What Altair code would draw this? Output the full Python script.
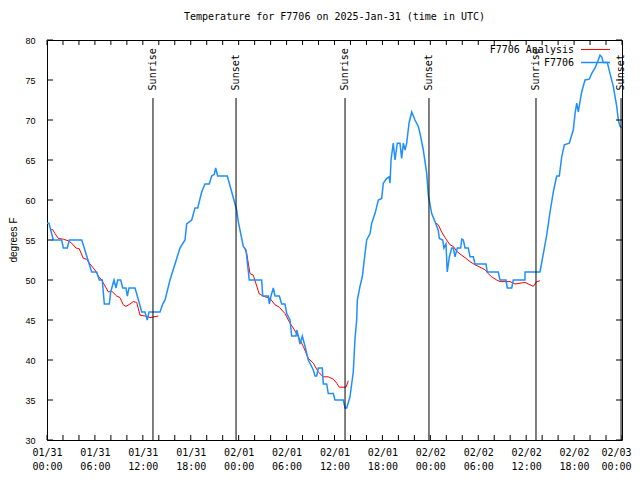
import altair as alt
import pandas as pd

# ---------------- data (hours since 2025-01-31 00:00 UTC) ----------------
obs_hours = [0.0, 0.25, 0.79, 1.84, 2.04, 2.54, 2.79, 4.35, 4.97, 5.6, 6.22, 6.55, 6.92, 7.18, 7.8,
             7.98, 8.39, 8.64, 8.85, 9.23, 9.48, 9.89, 10.06, 10.27, 11.02, 11.31, 11.86, 12.27,
             12.56, 12.77, 14.15, 14.49, 14.78, 15.4, 16.03, 16.65, 17.28, 17.49, 18.12, 18.53,
             18.87, 19.37, 19.78, 20.32, 20.62, 20.95, 21.12, 21.37, 22.58, 23.13, 23.75, 23.95,
             24.58, 24.92, 25.33, 26.88, 27.01, 27.71, 27.84, 28.05, 28.34, 28.55, 29.09, 29.39,
             29.8, 30.02, 30.43, 30.64, 31.18, 31.27, 31.47, 31.68, 31.97, 32.31, 32.72, 33.35,
             33.56, 33.77, 33.97, 34.47, 34.6, 35.02, 35.22, 35.85, 36.06, 37.1, 37.32, 37.53,
             37.94, 38.35, 38.57, 38.78, 38.86, 39.19, 39.48, 39.82, 40.03, 40.45, 40.66, 41.07,
             41.49, 41.91, 42.11, 42.54, 42.86, 42.95, 43.08, 43.36, 43.58, 43.86, 44.2, 44.41,
             44.62, 44.83, 45.04, 45.33, 45.67, 46.08, 46.49, 46.71, 47.12, 47.55, 47.75, 48.17,
             48.58, 49.0, 49.12, 49.55, 49.71, 49.96, 50.12, 50.38, 50.68, 50.88, 51.09, 51.38,
             51.8, 51.93, 52.13, 52.34, 52.75, 52.97, 53.38, 53.59, 54.97, 55.13, 56.51, 56.72,
             57.47, 57.64, 58.19, 58.39, 59.85, 59.86, 61.73, 62.15, 62.57, 62.99, 63.4, 63.82,
             64.15, 64.45, 64.78, 65.4, 65.7, 65.9, 66.12, 66.33, 66.53, 66.74, 66.95, 67.37,
             67.9, 68.2, 68.62, 69.03, 69.25, 69.46, 69.66, 70.16, 70.5, 70.91, 71.34, 71.54,
             71.75, 72.0]
obs_temps = [57.1, 57.1, 55, 55, 54, 54, 55, 55, 53, 51, 51, 50, 50, 47, 47,
             48.5, 50, 49, 50, 50, 49, 49, 48, 49, 49, 48, 46, 46,
             45, 46, 46, 47, 47.5, 50, 52, 54, 55, 57, 57.5, 59,
             59, 61, 62, 62, 63, 63.2, 64, 63, 63, 61, 58.75, 57.3,
             54.2, 53.75, 50, 50, 48, 48, 47, 48, 49, 48, 48, 47,
             47, 45.8, 45, 43, 43, 43.75, 43, 42, 43, 41.7, 40, 38.75,
             38, 38, 39, 39, 37, 37, 35.8, 35.8, 35, 35, 34, 34,
             35.4, 38.5, 42.7, 45, 47.5, 49.2, 50.4, 53.3, 55, 55.8, 57.1, 58.3,
             60, 60.2, 62.1, 62.7, 62.9, 62.1, 65, 67.1, 65, 67.1, 67.1, 65.2,
             67.1, 66.25, 67.1, 69.6, 71, 70, 69.2, 68.3, 66.25, 63.3, 60.6, 58.3,
             57.3, 56.2, 55.2, 55, 54, 54.5, 51, 52.9, 54, 54, 52.9, 54,
             54, 55.1, 55, 54, 54, 52.9, 52.9, 52, 52, 51, 51, 50,
             50, 49, 49, 50, 50, 51, 51, 53.3, 55.6, 58.5, 61, 63,
             63, 65.4, 66.9, 67.1, 68.1, 68.75, 70.8, 72.1, 71, 72.3, 73.5, 75,
             75.1, 75.8, 76.5, 77.5, 78.1, 77.9, 77.2, 77.2, 75.8, 74.2, 71.7, 70,
             69.2, 69]

ana_hours = [0.38, 0.71, 1.0, 1.41, 2.04, 2.67, 3.09, 3.63, 4.04, 4.55, 4.97, 5.38, 6.01, 6.42,
             6.85, 7.68, 8.1, 8.73, 9.14, 9.55, 9.89, 10.39, 10.81, 11.23, 11.65, 12.27, 12.9, 13.94,
             24.71, 25.01, 25.42, 25.83, 26.58, 27.3, 27.92, 28.55, 29.09, 29.8, 30.43, 30.84,
             31.47, 32.09, 32.72, 33.35, 33.97, 34.6, 35.22, 35.85, 36.28, 36.6, 37.44, 37.73,
             48.71, 49.0, 49.42, 49.84, 50.46, 50.88, 51.3, 51.72, 52.34, 52.97, 53.59, 54.22,
             54.84, 55.25, 55.68, 56.31, 56.72, 57.35, 57.98, 58.6, 59.23, 59.85, 60.48, 60.89,
             61.32, 61.73]
ana_temps = [56.3, 56.3, 55.8, 55.2, 55.1, 54.9, 54.6, 54.0, 53.9, 52.7, 52.6, 52.0, 51.25, 50.5,
             50.0, 48.5, 48.6, 48.0, 47.8, 46.9, 46.7, 47.0, 47.3, 47.2, 45.6, 45.5, 45.3, 45.5,
             54.1, 53.3, 50.8, 50.6, 48.25, 47.9, 47.7, 46.9, 46.6, 45.8, 44.6, 44.0,
             42.9, 41.7, 40.2, 39.6, 38.5, 37.9, 37.9, 37.6, 37.1, 36.6, 36.6, 37.4,
             57.1, 56.9, 56.0, 55.3, 54.4, 54.2, 53.6, 53.25, 52.8, 52.3, 51.9, 51.6,
             51.3, 50.8, 50.4, 50.0, 49.8, 49.8, 49.8, 49.5, 49.6, 49.7, 49.4, 49.2,
             49.8, 49.9]
ana_night = [1] * 28 + [2] * 24 + [3] * 26

sun_hours = [13.27, 23.67, 37.32, 47.83, 61.23, 71.88]
sun_labels = ["Sunrise", "Sunset", "Sunrise", "Sunset", "Sunrise", "Sunset"]

x_ticks = list(range(0, 73, 6))
x_minor = list(range(0, 73, 2))
y_ticks = list(range(30, 81, 5))
day_labels = ["01/31", "02/01", "02/02", "02/03"]

title_text = "Temperature for F7706 on 2025-Jan-31 (time in UTC)"
y_title = "degrees F"
series_names = ["F7706 Analysis", "F7706"]

# ---------------- frames ----------------
obs = pd.DataFrame({"h": obs_hours, "t": obs_temps})
ana = pd.DataFrame({"h": ana_hours, "t": ana_temps, "night": ana_night})
sun = pd.DataFrame({"h": sun_hours, "label": sun_labels})
xt = pd.DataFrame({"v": x_minor})
yt = pd.DataFrame({"v": y_ticks})

W, H = 575, 400
MONO = "DejaVu Sans Mono"
SANS = "Liberation Sans"
BLUE = "#1e8fff"

xscale = alt.Scale(domain=[0, 72], nice=False, zero=False)
yscale = alt.Scale(domain=[30, 80], nice=False, zero=False)

day_js = "[" + ",".join("'%s'" % d for d in day_labels) + "]"
label_expr = ("[" + day_js + "[floor(datum.value/24)], "
              "((datum.value%24) < 10 ? '0' : '') + (datum.value%24) + ':00']")
last = x_ticks[-1]

xaxis = alt.Axis(values=x_ticks, labelExpr=label_expr, ticks=False, domain=False, grid=False,
                 title=None, labelFont=MONO, labelFontSize=10, labelColor="black",
                 labelPadding=7, labelLineHeight=14, labelFlush=False, labelOverlap=False,
                 labelAlign={"expr": "datum.value == %d ? 'right' : 'center'" % last},
                 labelOffset={"expr": "datum.value == %d ? 9 : 0" % last})
yaxis = alt.Axis(values=y_ticks, ticks=False, domain=False, grid=False, title=None,
                 labelFont=SANS, labelFontSize=9, labelColor="black", labelPadding=12,
                 labelOverlap=False, labelFlush=False)

X = lambda f: alt.X(f, scale=xscale, axis=xaxis, title=None)
Y = lambda f: alt.Y(f, scale=yscale, axis=yaxis, title=None)
YD = lambda v: alt.YDatum(v, scale=yscale, axis=yaxis)

ana_line = alt.Chart(ana).mark_line(color="red", strokeWidth=1).encode(
    x=X("h:Q"), y=Y("t:Q"), detail="night:N",
)
obs_line = alt.Chart(obs).mark_line(color=BLUE, strokeWidth=1.5).encode(
    x=X("h:Q"), y=Y("t:Q"),
)
sun_rule = alt.Chart(sun).mark_rule(color="black", strokeWidth=1).encode(
    x=X("h:Q"), y=YD(72.75), y2=alt.datum(30),
)
sun_text = alt.Chart(sun).mark_text(angle=270, align="left", baseline="middle", font=MONO,
                                    fontSize=10, color="black").encode(
    x=X("h:Q"), y=YD(73.7), text="label:N",
)

tick_len = 5
x_bot = alt.Chart(xt).mark_rule(color="black").encode(
    x=X("v:Q"), y=alt.value(H - tick_len), y2=alt.value(H))
x_top = alt.Chart(xt).mark_rule(color="black").encode(
    x=X("v:Q"), y=alt.value(0), y2=alt.value(tick_len))
y_left = alt.Chart(yt).mark_rule(color="black").encode(
    y=Y("v:Q"), x=alt.value(0), x2=alt.value(tick_len + 1))
y_right = alt.Chart(yt).mark_rule(color="black").encode(
    y=Y("v:Q"), x=alt.value(W - tick_len - 1), x2=alt.value(W))

# y-axis title as a text mark (left of the tick labels)
y_title_mark = alt.Chart(pd.DataFrame({"s": [y_title]})).mark_text(
    angle=270, align="center", baseline="middle", font=SANS, fontSize=10,
    color="black").encode(x=alt.value(-33), y=alt.value(H / 2), text="s:N")

# legend (top right, symbols right of labels as in the original)
leg_text1 = alt.Chart(pd.DataFrame({"s": [series_names[0]]})).mark_text(
    align="right", baseline="middle", font=MONO, fontSize=10, color="black").encode(
    x=alt.value(527), y=alt.value(10), text="s:N")
leg_text2 = alt.Chart(pd.DataFrame({"s": [series_names[1]]})).mark_text(
    align="right", baseline="middle", font=MONO, fontSize=10, color="black").encode(
    x=alt.value(527), y=alt.value(22.5), text="s:N")
leg_line1 = alt.Chart(pd.DataFrame({"s": [series_names[0]]})).mark_rule(
    color="red", strokeWidth=1).encode(x=alt.value(534), x2=alt.value(563), y=alt.value(9.5))
leg_line2 = alt.Chart(pd.DataFrame({"s": [series_names[1]]})).mark_rule(
    color=BLUE, strokeWidth=1.5).encode(x=alt.value(534), x2=alt.value(563), y=alt.value(22.5))

chart = alt.layer(
    ana_line, obs_line, sun_rule, sun_text, x_bot, x_top, y_left, y_right, y_title_mark,
    leg_line1, leg_line2, leg_text1, leg_text2,
).properties(
    width=W, height=H,
    title=alt.TitleParams(title_text, font=MONO, fontSize=10, fontWeight="normal",
                          color="black", anchor="middle", offset=14),
    autosize=alt.AutoSizeParams(type="none"),
    padding={"left": 39, "top": 32, "right": 10, "bottom": 32},
    background="white",
).configure_view(stroke="black", strokeWidth=1)

chart.save("out.html", embed_options={"renderer": "svg", "actions": False})
